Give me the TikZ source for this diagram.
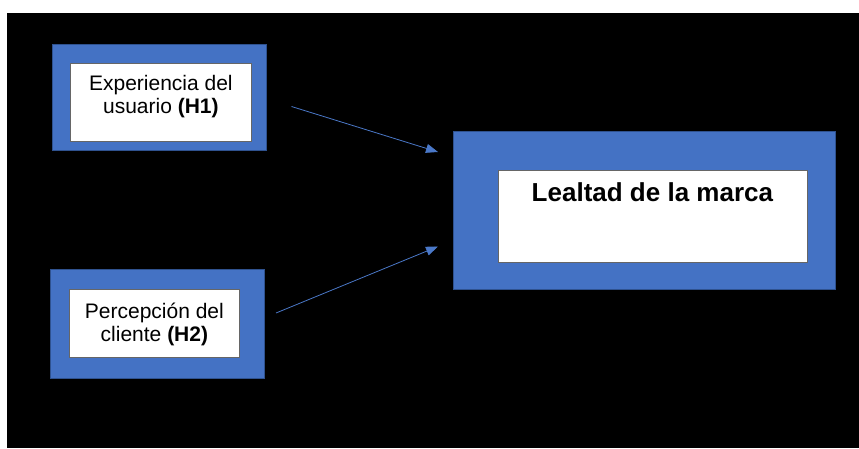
\documentclass[tikz,border=0pt]{standalone}
\usepackage{fontspec}
\setmainfont{Liberation Sans}
\usetikzlibrary{arrows.meta}
\definecolor{marco}{HTML}{4472C4}
\definecolor{bordemarco}{HTML}{2F528F}
\definecolor{flecha}{HTML}{4A78C8}
\tikzset{
  marco/.style={fill=marco,draw=bordemarco,line width=0.8pt},
  caja/.style={fill=white,draw=gray!80!black,line width=0.8pt,anchor=north west,
    inner sep=0pt,align=center,font=\fontsize{21}{23}\selectfont},
  flechita/.style={-{Triangle[length=12pt,width=9pt]},color=flecha,line width=0.8pt}
}
\begin{document}
\begin{tikzpicture}[x=1pt,y=-1pt]
\useasboundingbox (0,0) rectangle (859,448);
\fill[black] (6.5,13) rectangle (859,448);
%\draw[step=50,gray,very thin] (0,0) grid (859,448);
% cuadros azules
\draw[marco] (52.5,44) rectangle (266,150.5);
\draw[marco] (50.5,269) rectangle (264.5,378);
\draw[marco] (453,131.5) rectangle (835,289);
% cajas blancas
\node[caja,minimum width=181pt,minimum height=78pt,text depth=16pt] (exp) at (70,62.5)
  {Experiencia del\\usuario \textbf{(H1)}};
\node[caja,minimum width=170pt,minimum height=68pt,text depth=3pt] (per) at (69,289)
  {Percepción del\\cliente \textbf{(H2)}};
\node[caja,minimum width=309pt,minimum height=92pt,text depth=48pt,
  font=\fontsize{26}{28}\selectfont\bfseries] (leal) at (497.5,170)
  {Lealtad de la marca};
% flechas
\coordinate (a1) at (291.5,106.5);
\coordinate (b1) at (438,152);
\coordinate (a2) at (276,313);
\coordinate (b2) at (438,246.5);
\draw[flechita] (a1) -- (b1);
\draw[flechita] (a2) -- (b2);
\end{tikzpicture}
\end{document}
